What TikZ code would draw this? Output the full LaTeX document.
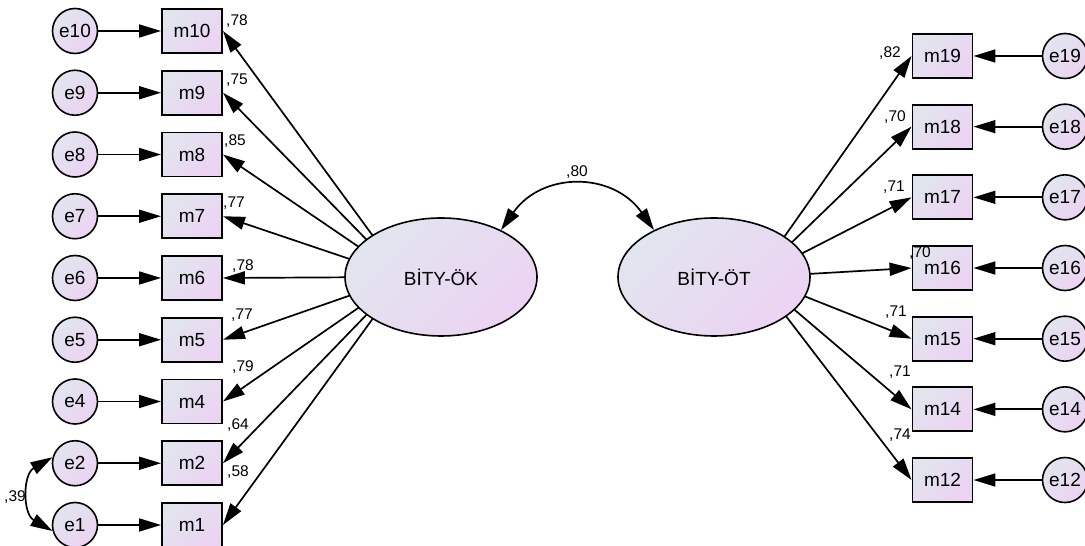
\documentclass[tikz,border=0pt]{standalone}
\usepackage{fontspec}
\setmainfont{Liberation Sans}
\usetikzlibrary{arrows.meta,shapes.geometric,positioning}

\definecolor{shadeL}{HTML}{E1E5EE}
\definecolor{shadeR}{HTML}{ECD3F3}

\begin{document}
\begin{tikzpicture}[x=1pt, y=1pt,
  tint/.style={left color=shadeL, right color=shadeR, shading angle=45},
  item/.style={draw, line width=1.9pt, minimum width=60pt, minimum height=44pt, tint, font=\fontsize{19}{19}\selectfont},
  err/.style={draw, circle, line width=1.6pt, minimum size=45pt, inner sep=0pt, tint, font=\fontsize{19}{19}\selectfont},
  factor/.style={draw, ellipse, line width=1.6pt, minimum width=192pt, minimum height=118pt, inner sep=0pt, tint, font=\fontsize{19}{19}\selectfont},
  load/.style={-{Triangle[length=22pt, width=13pt]}, line width=1.7pt},
  cov/.style={arrows={Triangle[length=22pt, width=13pt]-Triangle[length=22pt, width=13pt]}, line width=1.7pt},
  coef/.style={font=\fontsize{15.5}{15.5}\selectfont, inner sep=0pt}]

  \useasboundingbox (0,0) rectangle (1085,546);

  % Left column of items
  \begin{scope}[node distance=61.75pt]
  \node[item] (m10) at (192,515) {m10};
  \node[item, below of=m10] (m9) {m9};
  \node[item, below of=m9] (m8) {m8};
  \node[item, below of=m8] (m7) {m7};
  \node[item, below of=m7] (m6) {m6};
  \node[item, below of=m6] (m5) {m5};
  \node[item, below of=m5] (m4) {m4};
  \node[item, below of=m4] (m2) {m2};
  \node[item, below of=m2] (m1) {m1};
  \end{scope}

  % Left errors
  \begin{scope}[node distance=117pt]
  \node[err, left of=m10] (e10) {e10};
  \node[err, left of=m9] (e9) {e9};
  \node[err, left of=m8] (e8) {e8};
  \node[err, left of=m7] (e7) {e7};
  \node[err, left of=m6] (e6) {e6};
  \node[err, left of=m5] (e5) {e5};
  \node[err, left of=m4] (e4) {e4};
  \node[err, left of=m2] (e2) {e2};
  \node[err, left of=m1] (e1) {e1};
  \end{scope}

  % Right column of items
  \begin{scope}[node distance=70.67pt]
  \node[item] (m19) at (942.5,490) {m19};
  \node[item, below of=m19] (m18) {m18};
  \node[item, below of=m18] (m17) {m17};
  \node[item, below of=m17] (m16) {m16};
  \node[item, below of=m16] (m15) {m15};
  \node[item, below of=m15] (m14) {m14};
  \node[item, below of=m14] (m12) {m12};
  \end{scope}

  % Right errors
  \begin{scope}[node distance=122.5pt]
  \node[err, right of=m19] (e19) {e19};
  \node[err, right of=m18] (e18) {e18};
  \node[err, right of=m17] (e17) {e17};
  \node[err, right of=m16] (e16) {e16};
  \node[err, right of=m15] (e15) {e15};
  \node[err, right of=m14] (e14) {e14};
  \node[err, right of=m12] (e12) {e12};
  \end{scope}

  % Error arrows
  \draw[load] (e10) -- (m10);
  \draw[load] (e9) -- (m9);
  \draw[load] (e8) -- (m8);
  \draw[load] (e7) -- (m7);
  \draw[load] (e6) -- (m6);
  \draw[load] (e5) -- (m5);
  \draw[load] (e4) -- (m4);
  \draw[load] (e2) -- (m2);
  \draw[load] (e1) -- (m1);
  \draw[load] (e19) -- (m19);
  \draw[load] (e18) -- (m18);
  \draw[load] (e17) -- (m17);
  \draw[load] (e16) -- (m16);
  \draw[load] (e15) -- (m15);
  \draw[load] (e14) -- (m14);
  \draw[load] (e12) -- (m12);

  % Loadings fan out from a point inside each factor,
  % the factor is drawn on top afterwards
  \coordinate (lf) at (403,269);
  \coordinate (rf) at (756,269);
  \draw[load] (lf) -- (m10.east);
  \draw[load] (lf) -- (m9.east);
  \draw[load] (lf) -- (m8.east);
  \draw[load] (lf) -- (m7.east);
  \draw[load] (lf) -- (m6.east);
  \draw[load] (lf) -- (m5.east);
  \draw[load] (lf) -- (m4.east);
  \draw[load] (lf) -- (m2.east);
  \draw[load] (lf) -- (m1.east);
  \draw[load] (rf) -- (m19.west);
  \draw[load] (rf) -- (m18.west);
  \draw[load] (rf) -- (m17.west);
  \draw[load] (rf) -- (m16.west);
  \draw[load] (rf) -- (m15.west);
  \draw[load] (rf) -- (m14.west);
  \draw[load] (rf) -- (m12.west);

  % Latent factors
  \node[factor] (lk) at (441,269) {BİTY-ÖK};
  \node[factor] (rk) at (714,269) {BİTY-ÖT};

  % Covariances
  \draw[cov] (lk.38) to[out=55, in=125, looseness=1.2] (rk.142);
  \draw[cov] (e2.165) to[out=210, in=150, looseness=1.2] (e1.195);

  % Coefficients
  \node[coef] (c10) at (237,525) {,78};
  \node[coef] (c9) at (237,466) {,75};
  \node[coef] (c8) at (235,405) {,85};
  \node[coef] (c7) at (234,343) {,77};
  \node[coef] (c6) at (243,280) {,78};
  \node[coef] (c5) at (242,231) {,77};
  \node[coef] (c4) at (243,179) {,79};
  \node[coef] (c2) at (238,121) {,64};
  \node[coef] (c1) at (238,74) {,58};
  \node[coef] (c19) at (890,493) {,82};
  \node[coef] (c18) at (895,429) {,70};
  \node[coef] (c17) at (894,359) {,71};
  \node[coef] (c16) at (920,293) {,70};
  \node[coef] (c15) at (896,234) {,71};
  \node[coef] (c14) at (900,174) {,71};
  \node[coef] (c12) at (900,111) {,74};
  \node[coef] (ck) at (577,374) {,80};
  \node[coef] (ce) at (15,49) {,39};

\end{tikzpicture}
\end{document}
